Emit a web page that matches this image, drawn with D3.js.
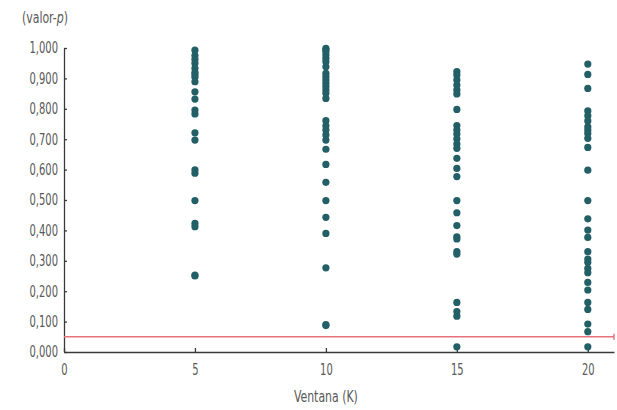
<!DOCTYPE html>
<html><head><meta charset="utf-8">
<script src="https://cdn.jsdelivr.net/npm/d3@7"></script>
<style>
body{margin:0;background:#fff;}
text{font-family:"DejaVu Sans Condensed","DejaVu Sans",sans-serif;}
</style></head><body>
<svg id="c" width="617" height="410"></svg>
<script>
const windows = [5, 10, 15, 20];
const pK5 = [0.993,0.975,0.963,0.950,0.933,0.920,0.913,0.904,0.889,0.856,0.832,0.796,0.783,0.721,0.697,0.599,0.588,0.498,0.423,0.412,0.253,0.250];
const pK10 = [0.999,0.994,0.988,0.977,0.966,0.955,0.938,0.917,0.906,0.895,0.884,0.873,0.862,0.851,0.834,0.761,0.744,0.730,0.714,0.697,0.667,0.617,0.558,0.498,0.443,0.390,0.277,0.090,0.087];
const pK15 = [0.922,0.911,0.895,0.878,0.862,0.849,0.798,0.745,0.730,0.717,0.701,0.684,0.670,0.637,0.604,0.577,0.498,0.458,0.416,0.379,0.372,0.330,0.322,0.163,0.133,0.118,0.017];
const pK20 = [0.947,0.913,0.867,0.793,0.777,0.760,0.741,0.730,0.719,0.703,0.673,0.598,0.498,0.438,0.401,0.377,0.330,0.306,0.295,0.275,0.261,0.229,0.204,0.163,0.140,0.092,0.067,0.017];
const series = [pK5, pK10, pK15, pK20];
const xTicks = [0, 5, 10, 15, 20];
const yTicks = [0, 0.1, 0.2, 0.3, 0.4, 0.5, 0.6, 0.7, 0.8, 0.9, 1.0];
const threshold = 0.05;

const SX = 0.74; // horizontal condensing of tick text to mimic a condensed face
const SL = 0.81; // condensing of axis titles
const svg = d3.select("#c");
const x = d3.scaleLinear().domain([0, 21]).range([64, 614]);
const y = d3.scaleLinear().domain([0, 1]).range([352, 48]);
const fmt = v => d3.format(".3f")(v).replace(".", ",");

const axisColor = "#3a3a3a", textColor = "#595959";

// y axis
const gy = svg.append("g").attr("transform", "translate(64,0)")
  .call(d3.axisLeft(y).tickValues(yTicks).tickFormat(fmt).tickSizeInner(-3).tickSizeOuter(0).tickPadding(7));
gy.select(".domain").attr("stroke", axisColor).attr("stroke-width", 1.3);
gy.selectAll(".tick line").attr("stroke", axisColor).attr("stroke-width", 1.3);
gy.selectAll(".tick text").attr("fill", textColor).style("font-size", "15px")
  .attr("x", -6 / SX).attr("transform", `scale(${SX},1)`);

// x axis
const gx = svg.append("g").attr("transform", "translate(0,352)")
  .call(d3.axisBottom(x).tickValues(xTicks).tickFormat(d3.format("d")).tickSizeInner(-4).tickSizeOuter(0).tickPadding(12));
gx.select(".domain").attr("stroke", axisColor).attr("stroke-width", 1.3);
gx.selectAll(".tick line").attr("stroke", axisColor).attr("stroke-width", 1.3);
gx.selectAll(".tick text").attr("fill", textColor).style("font-size", "15px")
  .attr("transform", `scale(${SX},1)`);

// threshold line
svg.append("line").attr("x1", x(0)).attr("x2", x(21)).attr("y1", y(threshold)).attr("y2", y(threshold))
  .attr("stroke", "#e8727c").attr("stroke-width", 1.5);
svg.append("line").attr("x1", x(21)).attr("x2", x(21)).attr("y1", y(threshold) - 3).attr("y2", y(threshold) + 3)
  .attr("stroke", "#e8727c").attr("stroke-width", 1.5);

// points
windows.forEach((k, i) => {
  svg.append("g").selectAll("circle").data(series[i]).join("circle")
    .attr("cx", x(k)).attr("cy", d => y(d)).attr("r", 3.6)
    .attr("fill", "#225f66");
});

// labels
const yl = svg.append("text").attr("x", 22 / SL).attr("y", 23).attr("transform", `scale(${SL},1)`)
  .attr("fill", textColor).style("font-size", "15px");
yl.append("tspan").text("(valor-");
yl.append("tspan").attr("font-style", "italic").text("p");
yl.append("tspan").text(")");
svg.append("text").attr("x", x(10) / SL).attr("y", 402).attr("text-anchor", "middle")
  .attr("transform", `scale(${SL},1)`)
  .attr("fill", textColor).style("font-size", "15px").text("Ventana (K)");
</script>
</body></html>
